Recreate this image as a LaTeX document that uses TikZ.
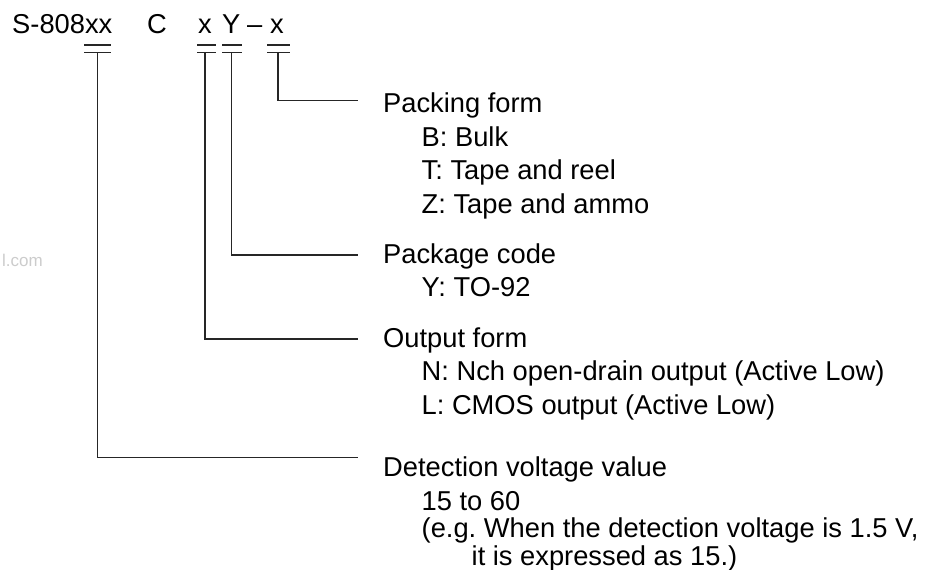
\documentclass[tikz,border=0pt]{standalone}
\usepackage{fontspec}
\setmainfont{Liberation Sans}
\begin{document}
\frenchspacing
\begin{tikzpicture}[x=1pt,y=-1pt,
  txt/.style={anchor=base west,inner sep=0pt,font=\fontsize{27.3}{33.5}\selectfont},
  lead/.style={line width=1.7pt,black!85},
  bar/.style={line width=1.9pt,black!85}]
\useasboundingbox (0,0) rectangle (932,570);
% watermark
\node[anchor=base west,inner sep=0pt,text=black!20,font=\fontsize{17}{17}\selectfont] (wm) at (2,266) {l.com};
% part number
\node[txt] (pn) at (12,33) {S-808xx};
\node[txt] (pc) at (147,33) {C};
\node[txt] (px) at (198,33) {x};
\node[txt] (py) at (222,33) {Y};
\node[txt] (pd) at (247,33) {--};
\node[txt] (pz) at (270,33) {x};
% bars
\foreach \a/\b in {84/111,197/216,222/242,267/290}{
  \draw[bar] (\a,45) -- (\b,45);
  \draw[bar] (\a,52.5) -- (\b,52.5);
}
\coordinate (ba) at (97.5,52.5);
\coordinate (bx) at (205,52.5);
\coordinate (by) at (231.5,52.5);
\coordinate (bz) at (278,52.5);
\coordinate (ea) at (358,457.5);
\coordinate (ex) at (358,339);
\coordinate (ey) at (358,255);
\coordinate (ez) at (358,100.5);
\draw[lead] (bz) |- (ez);
\draw[lead] (by) |- (ey);
\draw[lead] (bx) |- (ex);
\draw[lead] (ba) |- (ea);
% packing form
\node[txt] (pf) at (383,112.5) {Packing form};
\node[txt] (pf1) at (421.5,146) {B: Bulk};
\node[txt] (pf2) at (421.5,179.5) {T: Tape and reel};
\node[txt] (pf3) at (421.5,213) {Z: Tape and ammo};
% package code
\node[txt] (pk) at (383,263) {Package code};
\node[txt] (pk1) at (421.5,296.5) {Y: TO-92};
% output form
\node[txt] (of) at (383,347.5) {Output form};
\node[txt] (of1) at (421.5,380.5) {N: Nch open-drain output (Active Low)};
\node[txt] (of2) at (421.5,414) {L: CMOS output (Active Low)};
% detection voltage
\node[txt] (dv) at (383,476.5) {Detection voltage value};
\node[txt] (dv1) at (421.5,510) {15 to 60};
\node[txt] (dv2) at (421.5,537.5) {(e.g. When the detection voltage is 1.5 V,};
\node[txt] (dv3) at (471.5,565.5) {it is expressed as 15.)};
\end{tikzpicture}
\end{document}
